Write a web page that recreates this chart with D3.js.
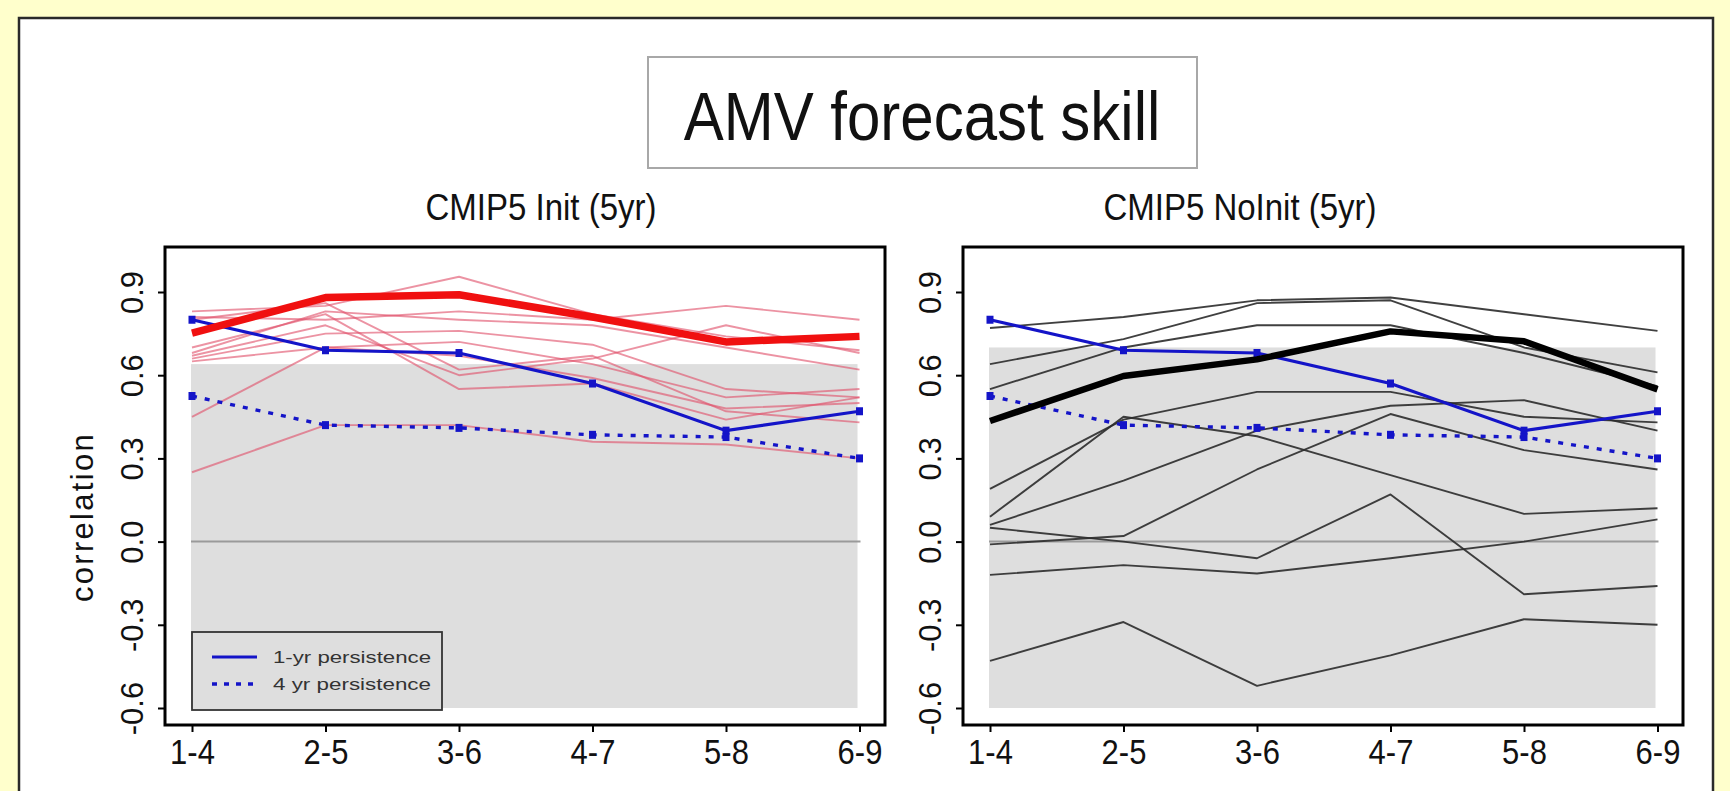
<!DOCTYPE html>
<html><head><meta charset="utf-8">
<script src="https://cdn.jsdelivr.net/npm/d3@7"></script>
<style>body{margin:0;background:#ffffcc;} svg{display:block}</style>
</head><body>
<svg id="c" width="1730" height="791"></svg>
<script>
// ---------- data ----------
const leads = ["1-4", "2-5", "3-6", "4-7", "5-8", "6-9"];
const yTicks = [-0.6, -0.3, 0.0, 0.3, 0.6, 0.9];
const yTickLabels = ["-0.6", "-0.3", "0.0", "0.3", "0.6", "0.9"];
const mainTitle = "AMV forecast skill";
const panelTitles = ["CMIP5 Init (5yr)", "CMIP5 NoInit (5yr)"];
const yLabel = "correlation";
const legendLabels = ["1-yr persistence", "4 yr persistence"];

const persist1 = [0.80, 0.69, 0.68, 0.57, 0.40, 0.47];
const persist4 = [0.525, 0.42, 0.41, 0.385, 0.377, 0.30];

const initMean = [0.752, 0.88, 0.89, 0.81, 0.72, 0.74];
const initMembers = [
  [0.83, 0.85, 0.955, 0.82, 0.74, 0.69],
  [0.81, 0.80, 0.83, 0.80, 0.85, 0.80],
  [0.68, 0.83, 0.80, 0.78, 0.70, 0.62],
  [0.66, 0.75, 0.76, 0.71, 0.55, 0.52],
  [0.65, 0.70, 0.72, 0.64, 0.52, 0.55],
  [0.45, 0.70, 0.67, 0.59, 0.48, 0.50],
  [0.25, 0.42, 0.42, 0.36, 0.35, 0.30],
  [0.80, 0.86, 0.62, 0.67, 0.47, 0.43],
  [0.70, 0.82, 0.55, 0.57, 0.44, 0.52],
  [0.67, 0.78, 0.60, 0.66, 0.78, 0.68]
];
const initShade = [-0.6, 0.64];

const noinitMean = [0.435, 0.597, 0.657, 0.758, 0.722, 0.549];
const noinitMembers = [
  [0.77, 0.81, 0.87, 0.88, 0.82, 0.76],
  [0.64, 0.73, 0.86, 0.87, 0.70, 0.61],
  [0.55, 0.70, 0.78, 0.78, 0.68, 0.56],
  [0.19, 0.44, 0.54, 0.54, 0.45, 0.43],
  [0.09, 0.45, 0.38, 0.24, 0.10, 0.12],
  [0.06, 0.22, 0.40, 0.49, 0.51, 0.40],
  [0.05, 0.00, -0.06, 0.17, -0.19, -0.16],
  [-0.01, 0.02, 0.26, 0.46, 0.33, 0.26],
  [-0.12, -0.085, -0.115, -0.06, 0.00, 0.08],
  [-0.43, -0.29, -0.52, -0.41, -0.28, -0.30]
];
const noinitShade = [-0.6, 0.70];

// ---------- drawing ----------
const svg = d3.select("#c");
const FONT = "'Liberation Sans', Arial, Helvetica, sans-serif";

// white sheet with border
svg.append("rect").attr("x", 19).attr("y", 18).attr("width", 1694).attr("height", 800)
  .attr("fill", "#fff").attr("stroke", "#2a2a2a").attr("stroke-width", 2.5);

// title box
svg.append("rect").attr("x", 648).attr("y", 57).attr("width", 549).attr("height", 111)
  .attr("fill", "#fff").attr("stroke", "#a8a8a8").attr("stroke-width", 2);
svg.append("text").attr("transform", "translate(922,140) scale(1,1.15)")
  .attr("text-anchor", "middle").attr("font-family", FONT).attr("font-size", 60)
  .attr("fill", "#111").text(mainTitle);

function panel(cfg) {
  const g = svg.append("g");
  const x = d3.scalePoint().domain(leads).range(cfg.xr);
  const y = d3.scaleLinear().domain([-0.6, 0.9]).range([708, 292]);
  const x0 = x(leads[0]) - 1, x1 = x(leads[leads.length - 1]) - 2;

  // shaded region
  g.append("rect").attr("x", x0).attr("width", x1 - x0)
    .attr("y", y(cfg.shade[1])).attr("height", y(cfg.shade[0]) - y(cfg.shade[1]))
    .attr("fill", "#dedede");
  // zero line
  g.append("line").attr("x1", x0).attr("x2", x(leads[5]) + 1)
    .attr("y1", y(0)).attr("y2", y(0)).attr("stroke", "#9a9a9a").attr("stroke-width", 2);

  const line = d3.line().x((d, i) => x(leads[i])).y(d => y(d));

  // members
  g.selectAll(null).data(cfg.members).join("path")
    .attr("d", line).attr("fill", "none")
    .attr("stroke", cfg.memberColor).attr("stroke-width", cfg.memberWidth)
    .attr("stroke-opacity", cfg.memberOpacity).attr("stroke-linejoin", "round");

  // persistence lines
  g.append("path").attr("d", line(persist1)).attr("fill", "none")
    .attr("stroke", "#1414c8").attr("stroke-width", 3.2);
  g.append("path").attr("d", line(persist4)).attr("fill", "none")
    .attr("stroke", "#1414c8").attr("stroke-width", 3.4).attr("stroke-dasharray", "5,8");
  [persist1, persist4].forEach(s => {
    g.selectAll(null).data(s).join("rect")
      .attr("x", (d, i) => x(leads[i]) - 3.5).attr("y", d => y(d) - 4)
      .attr("width", 7).attr("height", 8).attr("fill", "#1414c8");
  });

  // ensemble mean
  g.append("path").attr("d", line(cfg.mean)).attr("fill", "none")
    .attr("stroke", cfg.meanColor).attr("stroke-width", cfg.meanWidth)
    .attr("stroke-linejoin", "round");

  // frame
  g.append("rect").attr("x", cfg.frame[0]).attr("y", 247)
    .attr("width", cfg.frame[1] - cfg.frame[0]).attr("height", 725 - 247)
    .attr("fill", "none").attr("stroke", "#000").attr("stroke-width", 3);

  // axes
  const ax = g.append("g").attr("transform", `translate(0,725)`)
    .call(d3.axisBottom(x).tickSize(7).tickPadding(6));
  ax.select(".domain").remove();
  ax.selectAll("line").attr("stroke", "#000").attr("stroke-width", 2);
  ax.selectAll("text").attr("font-family", FONT).attr("font-size", 31).attr("fill", "#111")
    .attr("dy", 0).attr("y", 0)
    .attr("transform", "translate(0,39) scale(1,1.12)");

  const ay = g.append("g").attr("transform", `translate(${cfg.frame[0]},0)`)
    .call(d3.axisLeft(y).tickValues(yTicks).tickSize(7)
      .tickFormat((d, i) => yTickLabels[i]));
  ay.select(".domain").remove();
  ay.selectAll("line").attr("stroke", "#000").attr("stroke-width", 2);
  ay.selectAll("text").attr("font-family", FONT).attr("font-size", 31).attr("fill", "#111")
    .attr("x", 0).attr("dy", 0).attr("text-anchor", "middle")
    .attr("transform", "translate(-22,0) rotate(-90)");

  // panel title
  svg.append("text").attr("transform", `translate(${cfg.titleX},220) scale(1,1.14)`)
    .attr("text-anchor", "middle").attr("font-family", FONT).attr("font-size", 33)
    .attr("fill", "#111").text(cfg.title);
  return { x, y };
}

panel({
  xr: [192, 859.5], frame: [165, 885], shade: initShade, members: initMembers,
  memberColor: "#e0506a", memberWidth: 1.9, memberOpacity: 0.62,
  mean: initMean, meanColor: "#f01010", meanWidth: 7.5,
  title: panelTitles[0], titleX: 541
});
panel({
  xr: [990, 1657.5], frame: [963, 1683], shade: noinitShade, members: noinitMembers,
  memberColor: "#2b2b2b", memberWidth: 1.9, memberOpacity: 0.9,
  mean: noinitMean, meanColor: "#000", meanWidth: 6.5,
  title: panelTitles[1], titleX: 1240
});

// y label
svg.append("text").attr("transform", "translate(93,517) rotate(-90)")
  .attr("text-anchor", "middle").attr("font-family", FONT).attr("font-size", 31)
  .attr("letter-spacing", 2.3).attr("fill", "#111").text(yLabel);

// legend
const lg = svg.append("g");
lg.append("rect").attr("x", 192).attr("y", 632).attr("width", 250).attr("height", 78)
  .attr("fill", "#dedede").attr("stroke", "#333").attr("stroke-width", 1.8);
lg.append("line").attr("x1", 212).attr("x2", 257).attr("y1", 657).attr("y2", 657)
  .attr("stroke", "#1414c8").attr("stroke-width", 3);
lg.append("line").attr("x1", 212).attr("x2", 257).attr("y1", 684).attr("y2", 684)
  .attr("stroke", "#1414c8").attr("stroke-width", 3.4).attr("stroke-dasharray", "5,7");
legendLabels.forEach((t, i) => {
  lg.append("text").attr("x", 273).attr("y", 663 + i * 27)
    .attr("font-family", FONT).attr("font-size", 17).attr("fill", "#333")
    .attr("textLength", 158).attr("lengthAdjust", "spacingAndGlyphs").text(t);
});
</script>
</body></html>
